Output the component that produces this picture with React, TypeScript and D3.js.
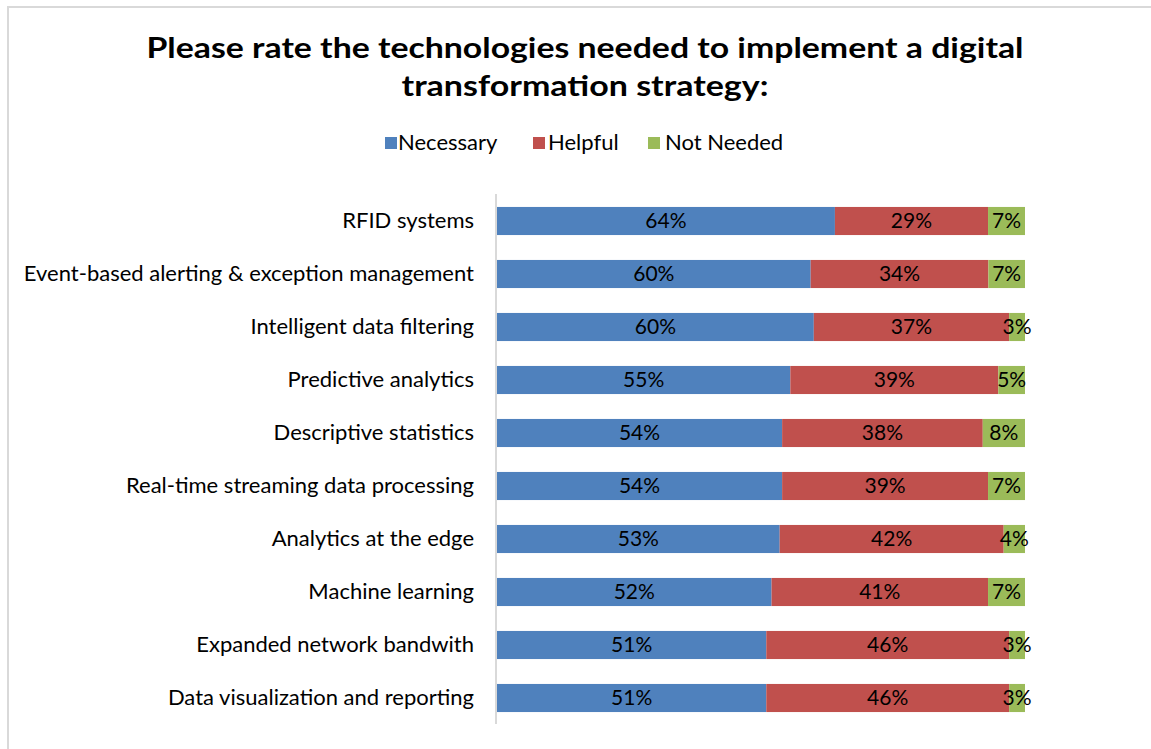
import React from "react";
import * as d3 from "d3";

const categories = [
  "RFID systems",
  "Event-based alerting & exception management",
  "Intelligent data filtering",
  "Predictive analytics",
  "Descriptive statistics",
  "Real-time streaming data processing",
  "Analytics at the edge",
  "Machine learning",
  "Expanded network bandwith",
  "Data visualization and reporting",
];
const necessary = [64, 60, 60, 55, 54, 54, 53, 52, 51, 51];
const helpful = [29, 34, 37, 39, 38, 39, 42, 41, 46, 46];
const notNeeded = [7, 7, 3, 5, 8, 7, 4, 7, 3, 3];
const seriesNames = ["Necessary", "Helpful", "Not Needed"];
const colors = ["#4F81BD", "#C0504D", "#9BBB59"];
const titleLines = [
  "Please rate the technologies needed to implement a digital",
  "transformation strategy:",
];

const W = 1151;
const H = 749;
const FONT = "Lato, 'Open Sans', sans-serif";

export default function App() {
  const rows = categories.map((c, i) => ({
    cat: c,
    Necessary: necessary[i],
    Helpful: helpful[i],
    "Not Needed": notNeeded[i],
  }));
  const stacked = d3
    .stack<any>()
    .keys(seriesNames)
    .offset(d3.stackOffsetExpand)(rows);

  const x = d3.scaleLinear().domain([0, 1]).range([497, 1025]);
  const y = d3
    .scaleBand()
    .domain(categories)
    .range([194.5, 724.5])
    .paddingInner(0.47)
    .paddingOuter(0.235);

  const legendItems = [
    { x: 385, tx: 398, text: seriesNames[0], color: colors[0] },
    { x: 533, tx: 548, text: seriesNames[1], color: colors[1] },
    { x: 648, tx: 665, text: seriesNames[2], color: colors[2] },
  ];
  const titleLens = [877, 367];

  return (
    <svg
      width={W}
      height={H}
      style={{ position: "absolute", left: 0, top: 0, background: "#fff" }}
      fontFamily={FONT}
    >
      <rect x={0} y={0} width={W} height={H} fill="#fff" />
      <rect
        x={8}
        y={7}
        width={W + 10}
        height={H + 10}
        fill="none"
        stroke="#d9d9d9"
        strokeWidth={2}
      />
      {titleLines.map((t, i) => (
        <text
          key={i}
          x={585}
          y={58 + i * 38}
          textAnchor="middle"
          fontSize={29}
          fontWeight="bold"
          fill="#000"
          textLength={titleLens[i]}
          lengthAdjust="spacingAndGlyphs"
        >
          {t}
        </text>
      ))}
      {legendItems.map((l, i) => (
        <g key={i}>
          <rect x={l.x} y={137} width={12} height={12} fill={l.color} />
          <text x={l.tx} y={150} fontSize={22} fill="#000">
            {l.text}
          </text>
        </g>
      ))}
      <line x1={496} x2={496} y1={194} y2={724} stroke="#d9d9d9" strokeWidth={2} />
      {stacked.map((s, si) => (
        <g key={s.key}>
          {s.map((d, di) => {
            const cat = categories[di];
            const x0 = x(d[0]);
            const x1 = x(d[1]);
            const yy = y(cat)!;
            const vals = [necessary, helpful, notNeeded][si];
            return (
              <g key={di}>
                <rect
                  x={x0}
                  y={yy}
                  width={x1 - x0}
                  height={y.bandwidth()}
                  fill={colors[si]}
                />
                <text
                  x={(x0 + x1) / 2}
                  y={yy + y.bandwidth() / 2 + 7}
                  textAnchor="middle"
                  fontSize={21}
                  fill="#000"
                >
                  {vals[di]}%
                </text>
              </g>
            );
          })}
        </g>
      ))}
      {categories.map((c) => (
        <text
          key={c}
          x={474}
          y={y(c)! + y.bandwidth() / 2 + 7}
          textAnchor="end"
          fontSize={22}
          fill="#000"
        >
          {c}
        </text>
      ))}
    </svg>
  );
}
